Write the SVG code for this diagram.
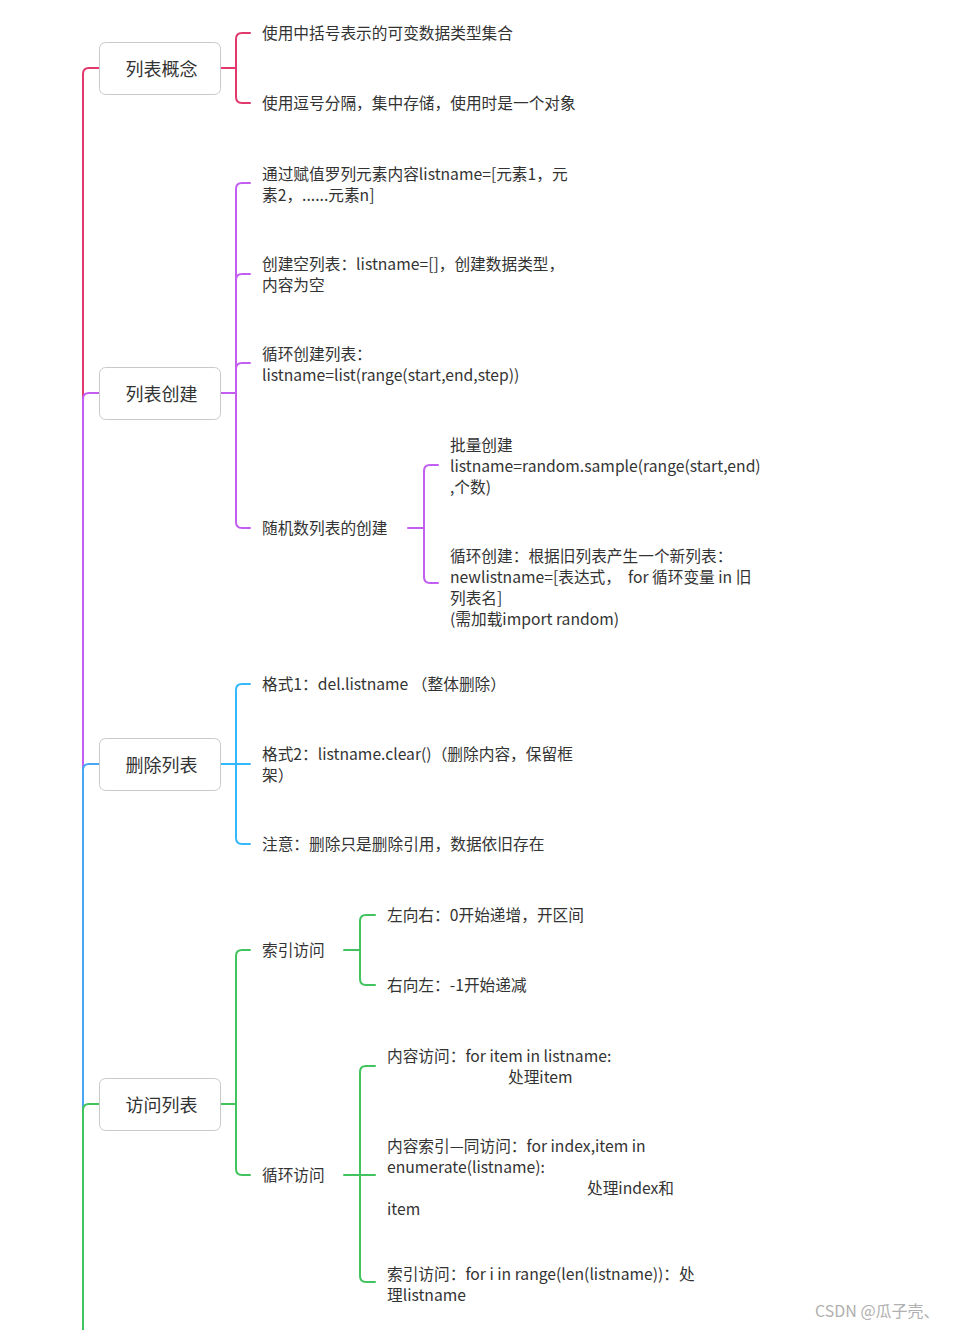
<svg xmlns="http://www.w3.org/2000/svg" width="955" height="1330" viewBox="0 0 955 1330">
<style>
.bg{fill:#ffffff}
.box{fill:#ffffff;stroke:#c9c9c9;stroke-width:1}
.nt{font-family:"Noto Sans CJK SC","Noto Sans",sans-serif;font-size:18px;fill:#333333;text-anchor:middle}
.lt{font-family:"Noto Sans CJK SC","Noto Sans",sans-serif;font-size:15.7px;fill:#333333;white-space:pre}
.c{fill:none;stroke-width:2;stroke-linecap:round;stroke-linejoin:round}
.pink{stroke:#e2386d}
.purple{stroke:#c45ef2}
.blue{stroke:#33b8fb}
.tblue{stroke:#4aa6f4}
.green{stroke:#41c45e}
.wm{font-family:"Noto Sans CJK SC","Noto Sans",sans-serif;font-size:16px;fill:#b0b0b0}
</style>
<rect class="bg" x="0" y="0" width="955" height="1330"/>
<g id="connectors">
  <path class="c pink" d="M83,399 V74 Q83,68 89,68 H99"/>
  <path class="c purple" d="M83,770 V399 Q83,393 89,393 H99"/>
  <path class="c tblue" d="M83,1110 V770 Q83,764 89,764 H99"/>
  <path class="c green" d="M83,1332 V1110 Q83,1104 89,1104 H99"/>
  <path class="c pink" d="M221,68 H236"/>
  <path class="c pink" d="M236,68 V39 Q236,33 242,33 H250"/>
  <path class="c pink" d="M236,68 V97 Q236,103 242,103 H250"/>
  <path class="c purple" d="M221,393 H236"/>
  <path class="c purple" d="M236,393 V189 Q236,183 242,183 H250"/>
  <path class="c purple" d="M236,393 V280 Q236,274 242,274 H250"/>
  <path class="c purple" d="M236,393 V369 Q236,363 242,363 H250"/>
  <path class="c purple" d="M236,393 V522 Q236,528 242,528 H250"/>
  <path class="c purple" d="M408,528 H424"/>
  <path class="c purple" d="M424,528 V471 Q424,465 430,465 H438"/>
  <path class="c purple" d="M424,528 V577 Q424,583 430,583 H438"/>
  <path class="c blue" d="M221,764 H236"/>
  <path class="c blue" d="M236,764 V690 Q236,684 242,684 H250"/>
  <path class="c blue" d="M236,764 H250"/>
  <path class="c blue" d="M236,764 V838 Q236,844 242,844 H250"/>
  <path class="c green" d="M221,1104 H236"/>
  <path class="c green" d="M236,1104 V956 Q236,950 242,950 H250"/>
  <path class="c green" d="M236,1104 V1169 Q236,1175 242,1175 H250"/>
  <path class="c green" d="M344,950 H360"/>
  <path class="c green" d="M360,950 V921 Q360,915 366,915 H375"/>
  <path class="c green" d="M360,950 V979 Q360,985 366,985 H375"/>
  <path class="c green" d="M344,1175 H360"/>
  <path class="c green" d="M360,1175 V1072 Q360,1066 366,1066 H375"/>
  <path class="c green" d="M360,1175 H375"/>
  <path class="c green" d="M360,1175 V1276 Q360,1282 366,1282 H375"/>
</g>
<g id="node-gainian">
  <rect class="box" x="99.5" y="42.5" width="121" height="52" rx="6"/>
  <text class="nt" x="161.5" y="76">列表概念</text>
</g>
<g id="leaf-gainian-1"><text class="lt" x="262" y="39">使用中括号表示的可变数据类型集合</text></g>
<g id="leaf-gainian-2"><text class="lt" x="262" y="109">使用逗号分隔，集中存储，使用时是一个对象</text></g>

<g id="node-chuangjian">
  <rect class="box" x="99.5" y="367.5" width="121" height="52" rx="6"/>
  <text class="nt" x="161.5" y="401">列表创建</text>
</g>
<g id="leaf-cj-1"><text class="lt" x="262" y="180">通过赋值罗列元素内容listname=[元素1，元</text><text class="lt" x="262" y="201">素2，......元素n]</text></g>
<g id="leaf-cj-2"><text class="lt" x="262" y="270">创建空列表：listname=[]，创建数据类型，</text><text class="lt" x="262" y="291">内容为空</text></g>
<g id="leaf-cj-3"><text class="lt" x="262" y="360">循环创建列表：</text><text class="lt" x="262" y="381">listname=list(range(start,end,step))</text></g>
<g id="leaf-cj-4"><text class="lt" x="262" y="534">随机数列表的创建</text></g>
<g id="leaf-cj-4-1"><text class="lt" x="450" y="451">批量创建</text><text class="lt" x="450" y="472">listname=random.sample(range(start,end)</text><text class="lt" x="450" y="493">,个数)</text></g>
<g id="leaf-cj-4-2"><text class="lt" x="450" y="562">循环创建：根据旧列表产生一个新列表：</text><text class="lt" x="450" y="583">newlistname=[表达式，  for 循环变量 in 旧</text><text class="lt" x="450" y="604">列表名]</text><text class="lt" x="450" y="625">(需加载import random)</text></g>

<g id="node-shanchu">
  <rect class="box" x="99.5" y="738.5" width="121" height="52" rx="6"/>
  <text class="nt" x="161.5" y="772">删除列表</text>
</g>
<g id="leaf-sc-1"><text class="lt" x="262" y="690">格式1：del.listname （整体删除）</text></g>
<g id="leaf-sc-2"><text class="lt" x="262" y="760">格式2：listname.clear()（删除内容，保留框</text><text class="lt" x="262" y="781">架）</text></g>
<g id="leaf-sc-3"><text class="lt" x="262" y="850">注意：删除只是删除引用，数据依旧存在</text></g>

<g id="node-fangwen">
  <rect class="box" x="99.5" y="1078.5" width="121" height="52" rx="6"/>
  <text class="nt" x="161.5" y="1112">访问列表</text>
</g>
<g id="leaf-fw-1"><text class="lt" x="262" y="956">索引访问</text></g>
<g id="leaf-fw-1-1"><text class="lt" x="387" y="921">左向右：0开始递增，开区间</text></g>
<g id="leaf-fw-1-2"><text class="lt" x="387" y="991">右向左：-1开始递减</text></g>
<g id="leaf-fw-2"><text class="lt" x="262" y="1181">循环访问</text></g>
<g id="leaf-fw-2-1"><text class="lt" x="387" y="1062">内容访问：for item in listname:</text><text class="lt" x="508" y="1083">处理item</text></g>
<g id="leaf-fw-2-2"><text class="lt" x="387" y="1152">内容索引—同访问：for index,item in</text><text class="lt" x="387" y="1173">enumerate(listname):</text><text class="lt" x="587" y="1194">处理index和</text><text class="lt" x="387" y="1215">item</text></g>
<g id="leaf-fw-2-3"><text class="lt" x="387" y="1280">索引访问：for i in range(len(listname))：处</text><text class="lt" x="387" y="1301">理listname</text></g>

<text class="wm" x="815" y="1317">CSDN @瓜子壳、</text>
</svg>
